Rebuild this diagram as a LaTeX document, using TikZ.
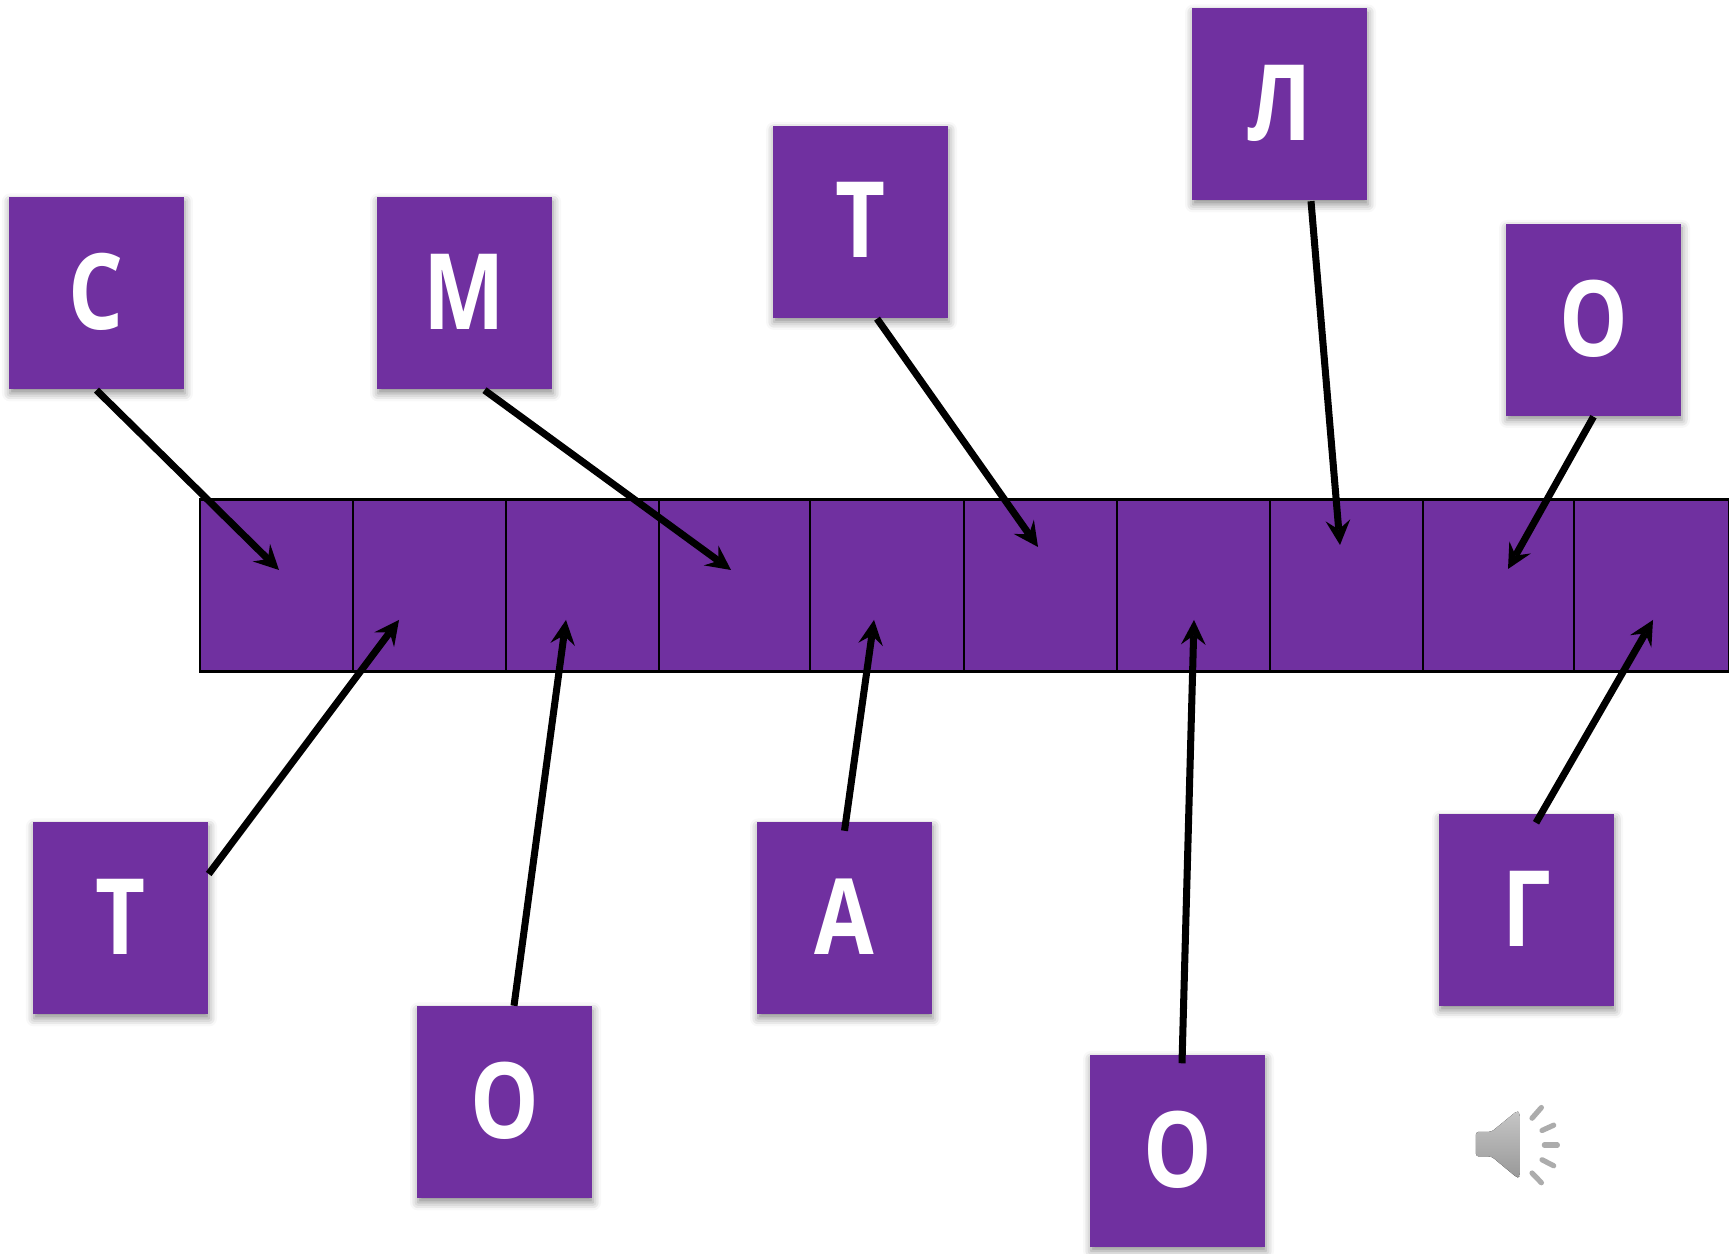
\documentclass[tikz,border=0pt]{standalone}
\usepackage{xcolor}
\usepackage{graphicx}
\usepackage{fontspec}
\setmainfont{Open Sans}
\usepackage{tikz}
\usetikzlibrary{arrows,shadows.blur}
\definecolor{violet1}{HTML}{7030A0}
\tikzset{
  letterbox/.style={fill=violet1,text=white,minimum width=1.75cm,minimum height=1.92cm,inner sep=0pt,
    font=\fontsize{30}{30}\selectfont\bfseries,
    blur shadow={shadow xshift=0.01cm,shadow yshift=-0.04cm,shadow blur radius=0.08cm,shadow opacity=45}},
  cellbox/.style={draw=black,fill=violet1,line width=0.6pt,minimum height=1.72cm,inner sep=0pt,anchor=west},
  linkarrow/.style={-stealth,line width=2pt,black},
  rayline/.style={line cap=round,line width=1.5pt,gray!65}
}
\newcommand{\narrow}[1]{\raisebox{0.04cm}{\scalebox{0.82}[1]{#1}}}
\begin{document}
\begin{tikzpicture}
\useasboundingbox (0,0) rectangle (17.29,12.54);
% strip of cells
\foreach \x/\w [count=\i] in {1.985/1.535,3.52/1.53,5.05/1.53,6.58/1.51,8.09/1.54,9.63/1.53,11.16/1.53,12.69/1.53,14.22/1.51,15.73/1.55}
  \node[cellbox,minimum width=\w cm] (cell\i) at (\x,6.685) {};
% upper letters
\node[letterbox] (boxc) at (0.965,9.605) {\narrow{С}};
\node[letterbox] (boxm) at (4.645,9.605) {\narrow{М}};
\node[letterbox] (boxt) at (8.605,10.32) {\narrow{Т}};
\node[letterbox] (boxl) at (12.795,11.495) {\narrow{Л}};
\node[letterbox] (boxo) at (15.935,9.34) {\narrow{О}};
% lower letters
\node[letterbox] (boxtb) at (1.205,3.355) {\narrow{Т}};
\node[letterbox] (boxob) at (5.045,1.515) {\narrow{О}};
\node[letterbox] (boxa) at (8.445,3.355) {\narrow{А}};
\node[letterbox] (boxoc) at (11.775,1.03) {\narrow{О}};
\node[letterbox] (boxg) at (15.265,3.435) {\narrow{Г}};
% arrow tips inside the cells
\coordinate (tip1) at (2.79,6.84);
\coordinate (tip4) at (7.31,6.84);
\coordinate (tip6) at (10.38,7.07);
\coordinate (tip8) at (13.40,7.09);
\coordinate (tip9) at (15.08,6.85);
\coordinate (tip2) at (3.99,6.34);
\coordinate (tip3) at (5.66,6.34);
\coordinate (tip5) at (8.74,6.34);
\coordinate (tip7) at (11.94,6.34);
\coordinate (tip10) at (16.53,6.34);
% arrows
\draw[linkarrow] (boxc.south) -- (tip1);
\draw[linkarrow] ([xshift=0.2cm]boxm.south) -- (tip4);
\draw[linkarrow] ([xshift=0.165cm]boxt.south) -- (tip6);
\draw[linkarrow] ([xshift=0.315cm]boxl.south) -- (tip8);
\draw[linkarrow] (boxo.south) -- (tip9);
\draw[linkarrow] ([yshift=0.445cm]boxtb.east) -- (tip2);
\draw[linkarrow] ([xshift=0.095cm]boxob.north) -- (tip3);
\draw[linkarrow] ([yshift=-0.09cm]boxa.north) -- (tip5);
\draw[linkarrow] ([xshift=0.045cm,yshift=-0.09cm]boxoc.north) -- (tip7);
\draw[linkarrow] ([xshift=0.095cm,yshift=-0.09cm]boxg.north) -- (tip10);
% speaker
\begin{scope}[shift={(14,1.94)},x=0.00333cm,y=-0.00333cm]
\fill[top color=gray!45,bottom color=gray!80,rounded corners=0.8pt]
  (228,216) -- (275,216) -- (352,153) -- (360,160) -- (360,350) -- (352,354) -- (275,290) -- (228,290) -- cycle;
\draw[rayline] (397,175) -- (425,143);
\draw[rayline] (427,212) -- (462,196);
\draw[rayline] (434,256) -- (473,256);
\draw[rayline] (427,300) -- (462,318);
\draw[rayline] (397,340) -- (425,369);
\end{scope}
\end{tikzpicture}
\end{document}
